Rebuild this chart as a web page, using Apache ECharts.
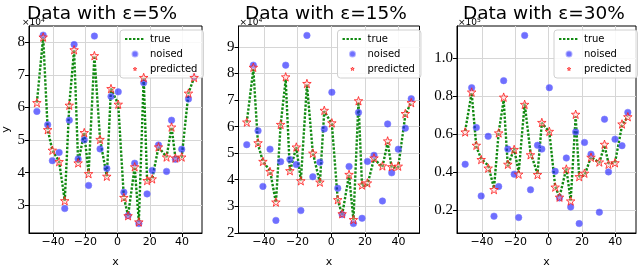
<!DOCTYPE html>
<html>
<head>
<meta charset="utf-8">
<script src="https://cdn.jsdelivr.net/npm/echarts@6/dist/echarts.min.js"></script>
<style>
html,body{margin:0;padding:0;background:#fff;}
#c{width:640px;height:273px;}
</style>
</head>
<body>
<div id="c"></div>
<script>
// ---- data ----
const xs = [-50.1, -46.2, -43.4, -40.5, -36.3, -32.8, -30.0, -27.0, -24.5, -20.7, -18.0, -14.4, -10.9, -6.7, -4.1, 0.4, 3.9, 6.5, 10.6, 13.2, 16.2, 18.3, 21.5, 25.4, 30.4, 33.5, 35.9, 39.8, 44.0, 47.5];
const trueY = [61500, 81600, 53200, 46900, 43400, 31400, 60700, 77700, 43000, 52300, 39700, 75900, 50200, 38900, 65800, 61000, 32400, 26800, 41800, 24900, 69200, 37600, 38100, 47900, 44800, 54000, 44500, 44800, 64400, 69200];

const titles = ["Data with ε=5%", "Data with ε=15%", "Data with ε=30%"];

const noised5 = [58800, 82200, 54700, 43700, 46200, 29000, 56100, 79300, 44200, 50100, 36100, 81900, 47300, 41300, 63400, 64800, 34000, 26800, 42900, 24400, 67600, 33500, 40700, 48500, 40400, 56100, 44100, 47200, 62600, 69500];
const pred5   = [61500, 81600, 53200, 46900, 43400, 31400, 60700, 77700, 43000, 52300, 39700, 75900, 50200, 38900, 65800, 61000, 32400, 26800, 41800, 24900, 69200, 37600, 38100, 47900, 44800, 54000, 44500, 44800, 64400, 69200];

const noised15 = [53200, 83100, 58400, 37500, 51500, 24700, 46800, 83100, 47600, 45700, 28400, 94300, 41100, 46600, 59100, 72900, 36800, 26900, 45000, 23500, 65300, 25500, 46900, 49200, 32000, 61000, 42600, 51500, 59400, 70500];
const pred15   = [61700, 82300, 53900, 46900, 43100, 31600, 60800, 78700, 43400, 52300, 39600, 76200, 50000, 39100, 66100, 61400, 32500, 27200, 42000, 25000, 69700, 38000, 38800, 48200, 45200, 54600, 44900, 45100, 64900, 69000];

const noised30 = [44000, 84300, 63300, 27300, 58700, 16700, 32300, 88000, 52000, 38800, 16000, 111800, 30600, 54000, 52000, 84300, 40300, 26300, 47300, 21500, 61000, 12800, 55500, 49300, 18800, 67700, 40000, 57200, 53800, 71300];
const pred30   = [61000, 82000, 54000, 46500, 42000, 30700, 60500, 79300, 44000, 51800, 38800, 75500, 49000, 38600, 66000, 61300, 32000, 26700, 41500, 24700, 70300, 37500, 39300, 47700, 45200, 54500, 44000, 44800, 65200, 69000];

const yTicks = [
  [30000, 40000, 50000, 60000, 70000, 80000],
  [20000, 30000, 40000, 50000, 60000, 70000, 80000, 90000],
  [20000, 40000, 60000, 80000, 100000]
];
const xTicks = [-40, -20, 0, 20, 40];
const yExps = ["4", "4", "5"];

// ---- layout / style ----
const grids = [
  {left: 21, top: 26, width: 181, height: 219},
  {left: 238.5, top: 26, width: 181, height: 219},
  {left: 457, top: 26, width: 179, height: 219}
];
const titleLeft = [22, 240, 458];
const yRanges = [[21500, 85000], [19960, 97840], [7850, 116750]];
const xRange = [-55, 52.4];
const yScale = [1e4, 1e4, 1e5];
const noisedSets = [noised5, noised15, noised30];
const predSets = [pred5, pred15, pred30];

const starPath = 'path://M0,-10L2.35,-3.24L9.51,-3.09L3.8,1.24L5.88,8.09L0,4L-5.88,8.09L-3.8,1.24L-9.51,-3.09L-2.35,-3.24Z';
// legend icons with invisible padding so they draw smaller
const starLegend = 'path://M-22,-22M22,22M0,-10L2.35,-3.24L9.51,-3.09L3.8,1.24L5.88,8.09L0,4L-5.88,8.09L-3.8,1.24L-9.51,-3.09L-2.35,-3.24Z';
const circleLegend = 'path://M-8,-8M8,8M5,0A5,5,0,1,1,-5,0A5,5,0,1,1,5,0Z';

const pair = (arr) => xs.map((x, i) => [x, arr[i]]);

const option = {
  animation: false,
  backgroundColor: '#fff',
  title: [], grid: [], xAxis: [], yAxis: [], series: [], legend: [], graphic: []
};

for (let p = 0; p < 3; p++) {
  const g = grids[p];
  option.grid.push({left: g.left, top: g.top, width: g.width, height: g.height, show: true, borderColor: '#000', borderWidth: 1, backgroundColor: 'transparent'});
  option.title.push({
    text: titles[p], left: titleLeft[p], top: 0,
    textStyle: {fontFamily: 'DejaVu Sans', fontSize: 18.5, fontWeight: 'normal', color: '#000'}
  });
  option.xAxis.push({
    type: 'value', gridIndex: p, min: xRange[0], max: xRange[1],
    name: 'x', nameLocation: 'middle', nameGap: 24,
    nameTextStyle: {fontFamily: 'DejaVu Sans', fontSize: 11, color: '#000'},
    axisLine: {show: true, onZero: false, lineStyle: {color: '#000', width: 1}},
    axisTick: {show: true, length: 4, customValues: xTicks, lineStyle: {color: '#000'}},
    axisLabel: {customValues: xTicks, fontFamily: 'DejaVu Sans', fontSize: 11, color: '#000', margin: 4,
      formatter: v => (v < 0 ? '\u2212' + Math.abs(v) : String(v))},
    splitLine: {show: true, lineStyle: {color: '#d6d6d6', width: 1}}
  });
  const sc = yScale[p];
  option.yAxis.push({
    type: 'value', gridIndex: p, min: yRanges[p][0], max: yRanges[p][1],
    name: p === 0 ? 'y' : '', nameLocation: 'middle', nameGap: 17,
    nameTextStyle: {fontFamily: 'DejaVu Sans', fontSize: 11, color: '#000'},
    axisLine: {show: true, onZero: false, lineStyle: {color: '#000', width: 1}},
    axisTick: {show: true, length: 4, customValues: yTicks[p], lineStyle: {color: '#000'}},
    axisLabel: {customValues: yTicks[p], fontFamily: 'Liberation Serif', fontSize: 15, color: '#000', margin: 4,
      formatter: v => (sc === 1e5 ? (v / sc).toFixed(1) : String(Math.round(v / sc)))},
    splitLine: {show: true, lineStyle: {color: '#d6d6d6', width: 1}}
  });
  option.graphic.push({
    type: 'text', left: g.left + 1, top: 17,
    style: {
      text: '×10{s|' + yExps[p] + '}',
      rich: {s: {fontSize: 6, verticalAlign: 'top', padding: [0, 0, 5, 0], fontFamily: 'DejaVu Sans'}},
      fontFamily: 'DejaVu Sans', fontSize: 9, fill: '#000'
    }
  });
  option.series.push({
    name: 'true', type: 'line', xAxisIndex: p, yAxisIndex: p, data: pair(trueY),
    symbol: 'none', z: 2,
    lineStyle: {color: '#118a11', width: 2.4, type: [2.4, 1.6]},
    itemStyle: {color: '#118a11'}
  });
  option.series.push({
    name: 'noised', type: 'scatter', xAxisIndex: p, yAxisIndex: p, data: pair(noisedSets[p]),
    symbol: 'circle', symbolSize: 6.5, z: 3,
    itemStyle: {color: 'rgba(30,30,255,0.8)', borderColor: 'rgba(120,120,255,0.7)', borderWidth: 1}
  });
  option.series.push({
    name: 'predicted', type: 'scatter', xAxisIndex: p, yAxisIndex: p, data: pair(predSets[p]),
    symbol: starPath, symbolSize: 8.5, z: 4,
    itemStyle: {color: 'rgba(255,200,200,0.5)', borderColor: '#ff1a1a', borderWidth: 1}
  });
  option.legend.push({
    data: [
      {name: 'true', itemStyle: {color: 'rgba(0,0,0,0)', borderWidth: 0, opacity: 0}},
      {name: 'noised', icon: circleLegend},
      {name: 'predicted', icon: starLegend, itemStyle: {color: 'rgba(255,200,200,0.5)', borderColor: '#ff1a1a', borderWidth: 1}}
    ],
    orient: 'vertical', left: g.left + g.width - 82, top: g.top + 4,
    itemWidth: 20, itemHeight: 8, itemGap: 5,
    symbolKeepAspect: true,
    padding: [4, 6, 4, 4],
    backgroundColor: 'rgba(255,255,255,0.85)', borderColor: '#d0d0d0', borderWidth: 1, borderRadius: 3,
    textStyle: {fontFamily: 'DejaVu Sans', fontSize: 10, color: '#000'},
    selectedMode: false
  });
}

const chart = echarts.init(document.getElementById('c'), null, {renderer: 'canvas'});
chart.setOption(option);
</script>
</body>
</html>
